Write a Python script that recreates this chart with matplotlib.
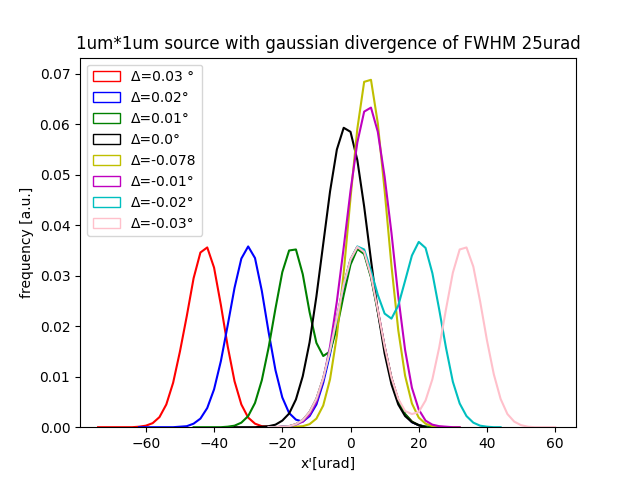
import numpy as np
import matplotlib
matplotlib.use("Agg")
import matplotlib.pyplot as plt
from matplotlib.patches import Patch

# bin heights, 2 urad apart, starting at *_x0
step = 2

red_x0 = -74
red = [0, 0, 0, 0, 0, 0, 0.0001, 0.0003, 0.0008, 0.0020, 0.0045, 0.0088, 0.0150,
       0.0220, 0.0295, 0.0346, 0.0356, 0.0316, 0.0242, 0.0160, 0.0091, 0.0045,
       0.0019, 0.0007, 0.0002, 0.0001, 0, 0.0001, 0.0002, 0.0006, 0.0014, 0.0030,
       0.0056, 0.0097, 0.0152, 0.0217, 0.0282, 0.0332, 0.0357, 0.0347, 0.0300,
       0.0232, 0.0160, 0.0098, 0.0054, 0.0026, 0.0011, 0.0004, 0.0001, 0]

blue_x0 = -62
blue = [0, 0, 0, 0, 0, 0, 0.0001, 0.0002, 0.0007, 0.0017, 0.0038, 0.0075, 0.0131,
        0.0202, 0.0276, 0.0334, 0.0358, 0.0335, 0.0270, 0.0188, 0.0113, 0.0059,
        0.0028, 0.0015, 0.0011, 0.0022, 0.0045, 0.0088, 0.0145, 0.0212, 0.0278,
        0.0330, 0.0356, 0.0346, 0.0299, 0.0231, 0.0159, 0.0097, 0.0053, 0.0025,
        0.0010, 0.0004, 0.0001, 0]

green_x0 = -46
green = [0, 0, 0, 0, 0, 0.0001, 0.0003, 0.0009, 0.0022, 0.0048, 0.0093, 0.0158,
         0.0235, 0.0307, 0.0350, 0.0352, 0.0303, 0.0228, 0.0167, 0.0141, 0.0150,
         0.0196, 0.0262, 0.0322, 0.0353, 0.0343, 0.0297, 0.0229, 0.0158, 0.0097,
         0.0053, 0.0026, 0.0011, 0.0004, 0.0001, 0]

black_x0 = -34
black = [0, 0, 0, 0, 0.0001, 0.0002, 0.0005, 0.0013, 0.0027, 0.0055, 0.0101,
         0.0168, 0.0259, 0.0363, 0.0467, 0.0550, 0.0593, 0.0585, 0.0529, 0.0437,
         0.0331, 0.0229, 0.0146, 0.0085, 0.0045, 0.0022, 0.0010, 0.0004, 0]

yellow_x0 = -22
yellow = [0, 0, 0, 0.0001, 0.0002, 0.0006, 0.0017, 0.0043, 0.0095, 0.0181, 0.0306,
          0.0454, 0.0591, 0.0684, 0.0688, 0.0602, 0.0469, 0.0320, 0.0192, 0.0102,
          0.0047, 0.0019, 0.0007, 0.0002, 0.0001, 0, 0, 0]

magenta_x0 = -24
magenta = [0, 0, 0.0001, 0.0002, 0.0005, 0.0011, 0.0025, 0.0050, 0.0094, 0.0160,
           0.0249, 0.0356, 0.0468, 0.0564, 0.0625, 0.0633, 0.0585, 0.0496, 0.0385,
           0.0259, 0.0153, 0.0078, 0.0035, 0.0013, 0.0005, 0.0002, 0.0001, 0, 0]

cyan_x0 = -24
cyan = [0, 0, 0.0001, 0.0002, 0.0006, 0.0014, 0.0030, 0.0056, 0.0097, 0.0152,
        0.0217, 0.0282, 0.0332, 0.0358, 0.0352, 0.0310, 0.0262, 0.0225, 0.0215,
        0.0241, 0.0290, 0.0340, 0.0367, 0.0355, 0.0305, 0.0233, 0.0157, 0.0090,
        0.0047, 0.0022, 0.0009, 0.0003, 0.0001, 0, 0]

pink_x0 = -24
pink = [0, 0, 0.0001, 0.0002, 0.0006, 0.0014, 0.0030, 0.0056, 0.0097, 0.0152,
        0.0217, 0.0282, 0.0332, 0.0357, 0.0347, 0.0300, 0.0232, 0.0160, 0.0098,
        0.0056, 0.0032, 0.0026, 0.0030, 0.0053, 0.0095, 0.0158, 0.0234, 0.0306,
        0.0352, 0.0356, 0.0318, 0.0249, 0.0172, 0.0105, 0.0056, 0.0026, 0.0011,
        0.0004, 0.0001, 0, 0, 0, 0]

labels = ["Δ=0.03 °", "Δ=0.02°", "Δ=0.01°", "Δ=0.0°",
          "Δ=-0.078", "Δ=-0.01°", "Δ=-0.02°", "Δ=-0.03°"]
colors = ["r", "b", "g", "k", "y", "m", "c", "pink"]

curves = [(red_x0, red), (blue_x0, blue), (green_x0, green), (black_x0, black),
          (yellow_x0, yellow), (magenta_x0, magenta), (cyan_x0, cyan),
          (pink_x0, pink)]

fig, ax = plt.subplots(figsize=(6.4, 4.8), dpi=100)

handles = []
for (x0, vals), c, lab in zip(curves, colors, labels):
    xs = x0 + step * np.arange(len(vals))
    ax.plot(xs, vals, color=c, lw=1.5)
    handles.append(Patch(facecolor="none", edgecolor=c, label=lab))

ax.set_xlim(-79.3, 66.1)
ax.set_ylim(0, 0.0732)
ax.legend(handles=handles, loc="upper left")
ax.set_title("1um*1um source with gaussian divergence of FWHM 25urad")
ax.set_xlabel("x'[urad]")
ax.set_ylabel("frequency [a.u.]")

fig.savefig("out.png")
